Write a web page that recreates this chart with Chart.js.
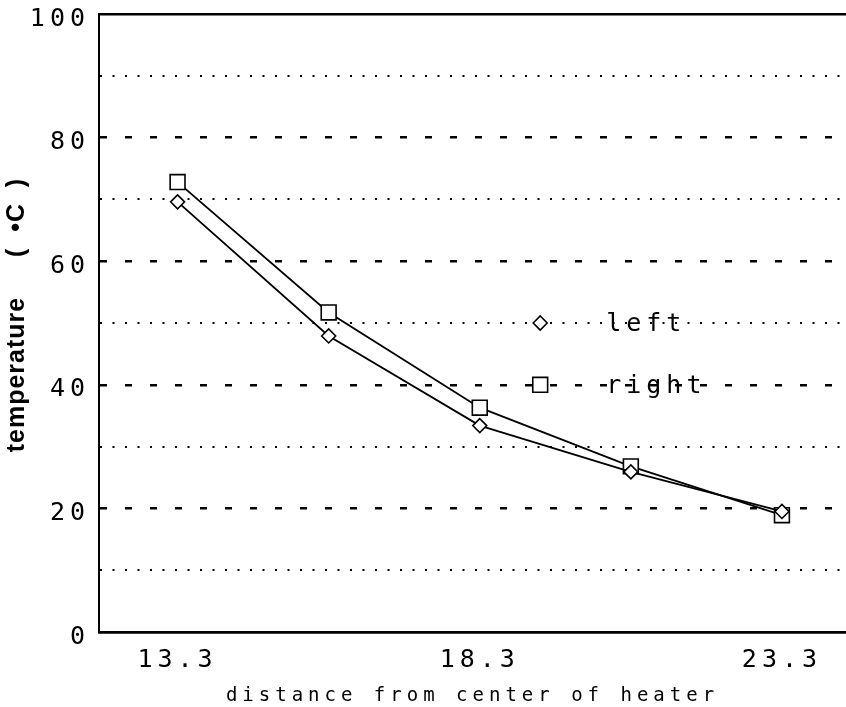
<!DOCTYPE html>
<html>
<head>
<meta charset="utf-8">
<script src="https://cdn.jsdelivr.net/npm/chart.js@4"></script>
<style>
  html, body { margin: 0; padding: 0; background: #fff; overflow: hidden; }
  canvas { display: block; }
</style>
</head>
<body>
<canvas id="myChart" width="846" height="707"></canvas>
<script>
// distances (x) and measured temperatures
let distances = [13.3, 15.8, 18.3, 20.8, 23.3]
let leftTemps = [69.6, 47.9, 33.4, 25.9, 19.5]
let rightTemps = [72.8, 51.7, 36.3, 26.8, 18.9]
let seriesNames = ['left', 'right']
let xTickLabels = [13.3, 18.3, 23.3]
let yTickLabels = [0, 20, 40, 60, 80, 100]

const mono = 'DejaVu Sans Mono'

function toPoints(xs, ys) {
  return xs.map((x, i) => ({ x: x, y: ys[i] }))
}

// letter spacing for the plotter-like text, less for the y title
const spacing = {
  id: 'spacing',
  beforeLayout(chart) { chart.ctx.letterSpacing = '5px' },
  afterLayout(chart) {
    // plot runs right up to the canvas edge like the original
    const xs = chart.scales.x
    const r = chart.width
    xs.right = r
    xs.width = r - xs.left
    xs.configure()
    chart.chartArea.right = r
    chart.chartArea.width = r - chart.chartArea.left
  },
  beforeDraw(chart) {
    chart.ctx.letterSpacing = '5px'
    const y = chart.scales.y
    if (!y._patched) {
      const orig = y.drawTitle.bind(y)
      y.drawTitle = function () {
        const c = this.ctx
        c.letterSpacing = '1px'
        orig()
        c.letterSpacing = '5px'
      }
      y._patched = true
    }
  }
}

// legend drawn inside the plot, on the 50 and 40 grid lines
const innerLegend = {
  id: 'innerLegend',
  afterDatasetsDraw(chart, args, opts) {
    const c = chart.ctx
    const xs = chart.scales.x, ys = chart.scales.y
    chart.data.datasets.forEach((ds, i) => {
      const px = xs.getPixelForValue(opts.x)
      const py = ys.getPixelForValue(opts.y[i])
      c.save()
      c.fillStyle = '#fff'
      c.strokeStyle = '#000'
      c.lineWidth = 1.6
      Chart.helpers.drawPoint(c, { pointStyle: ds.pointStyle, radius: ds.pointRadius, rotation: 0, borderWidth: 1.6 }, px, py)
      c.font = '25px ' + mono
      c.letterSpacing = '5px'
      c.fillStyle = '#000'
      c.textAlign = 'left'
      c.textBaseline = 'alphabetic'
      c.fillText(ds.label, px + 66, py + 8)
      c.restore()
    })
  }
}

// no extra room for labels that stick out of the plot
function noOverhang(s) {
  s.paddingTop = 0
  s.paddingBottom = 0
  s.paddingLeft = 0
  s.paddingRight = 0
}

const ctx = document.getElementById('myChart')

let chart = new Chart(ctx, {
  type: 'line',
  data: {
    datasets: [{
      label: seriesNames[0],
      data: toPoints(distances, leftTemps),
      borderColor: '#000',
      borderWidth: 1.8,
      pointStyle: 'rectRot',
      pointRadius: 7,
      pointBackgroundColor: '#fff',
      pointBorderColor: '#000',
      pointBorderWidth: 1.6,
      tension: 0
    }, {
      label: seriesNames[1],
      data: toPoints(distances, rightTemps),
      borderColor: '#000',
      borderWidth: 1.8,
      pointStyle: 'rect',
      pointRadius: 10.5,
      pointBackgroundColor: '#fff',
      pointBorderColor: '#000',
      pointBorderWidth: 1.6,
      tension: 0
    }]
  },
  options: {
    responsive: false,
    animation: false,
    layout: { padding: { top: 14, right: 0, left: 0, bottom: 0 } },
    plugins: {
      legend: { display: false },
      tooltip: { enabled: false },
      innerLegend: { x: 19.3, y: [50, 40] }
    },
    scales: {
      x: {
        type: 'linear',
        min: 12,
        max: 24.36,
        afterBuildTicks: (s) => { s.ticks = distances.map(v => ({ value: v })) },
        afterFit: (s) => { s.height = 75; noOverhang(s) },
        grid: { display: false },
        border: { display: true, color: '#000', width: 2.5 },
        ticks: {
          color: '#000',
          font: { family: mono, size: 25 },
          padding: 5,
          maxRotation: 0,
          autoSkip: false,
          callback: (v) => xTickLabels.includes(v) ? v.toFixed(1) : ''
        },
        title: {
          display: true,
          text: 'distance from center of heater',
          color: '#000',
          font: { family: mono, size: 19 },
          padding: { top: 2, bottom: 0 }
        }
      },
      y: {
        min: 0,
        max: 100,
        afterFit: (s) => { s.width = 99; noOverhang(s) },
        ticks: {
          stepSize: 10,
          color: '#000',
          font: { family: mono, size: 25 },
          padding: 9,
          labelOffset: 5,
          callback: (v) => yTickLabels.includes(v) ? String(v) : ''
        },
        grid: {
          drawTicks: false,
          color: '#000',
          lineWidth: (c) => {
            const v = c.tick ? c.tick.value : 0
            return v % 20 === 0 ? 2.5 : 2
          }
        },
        border: {
          display: true,
          color: '#000',
          width: 2,
          dash: (c) => {
            if (!c.tick) return []
            const v = c.tick.value
            if (v === 0 || v === 100) return []
            return v % 20 === 0 ? [7, 18] : [2, 10.5]
          }
        },
        title: {
          display: true,
          text: '  temperature     (  \u2022C  )',
          color: '#000',
          font: { family: 'Liberation Sans', size: 25, weight: 'bold' },
          padding: { top: 2, bottom: 0 }
        }
      }
    }
  },
  plugins: [spacing, innerLegend]
})
</script>
</body>
</html>
